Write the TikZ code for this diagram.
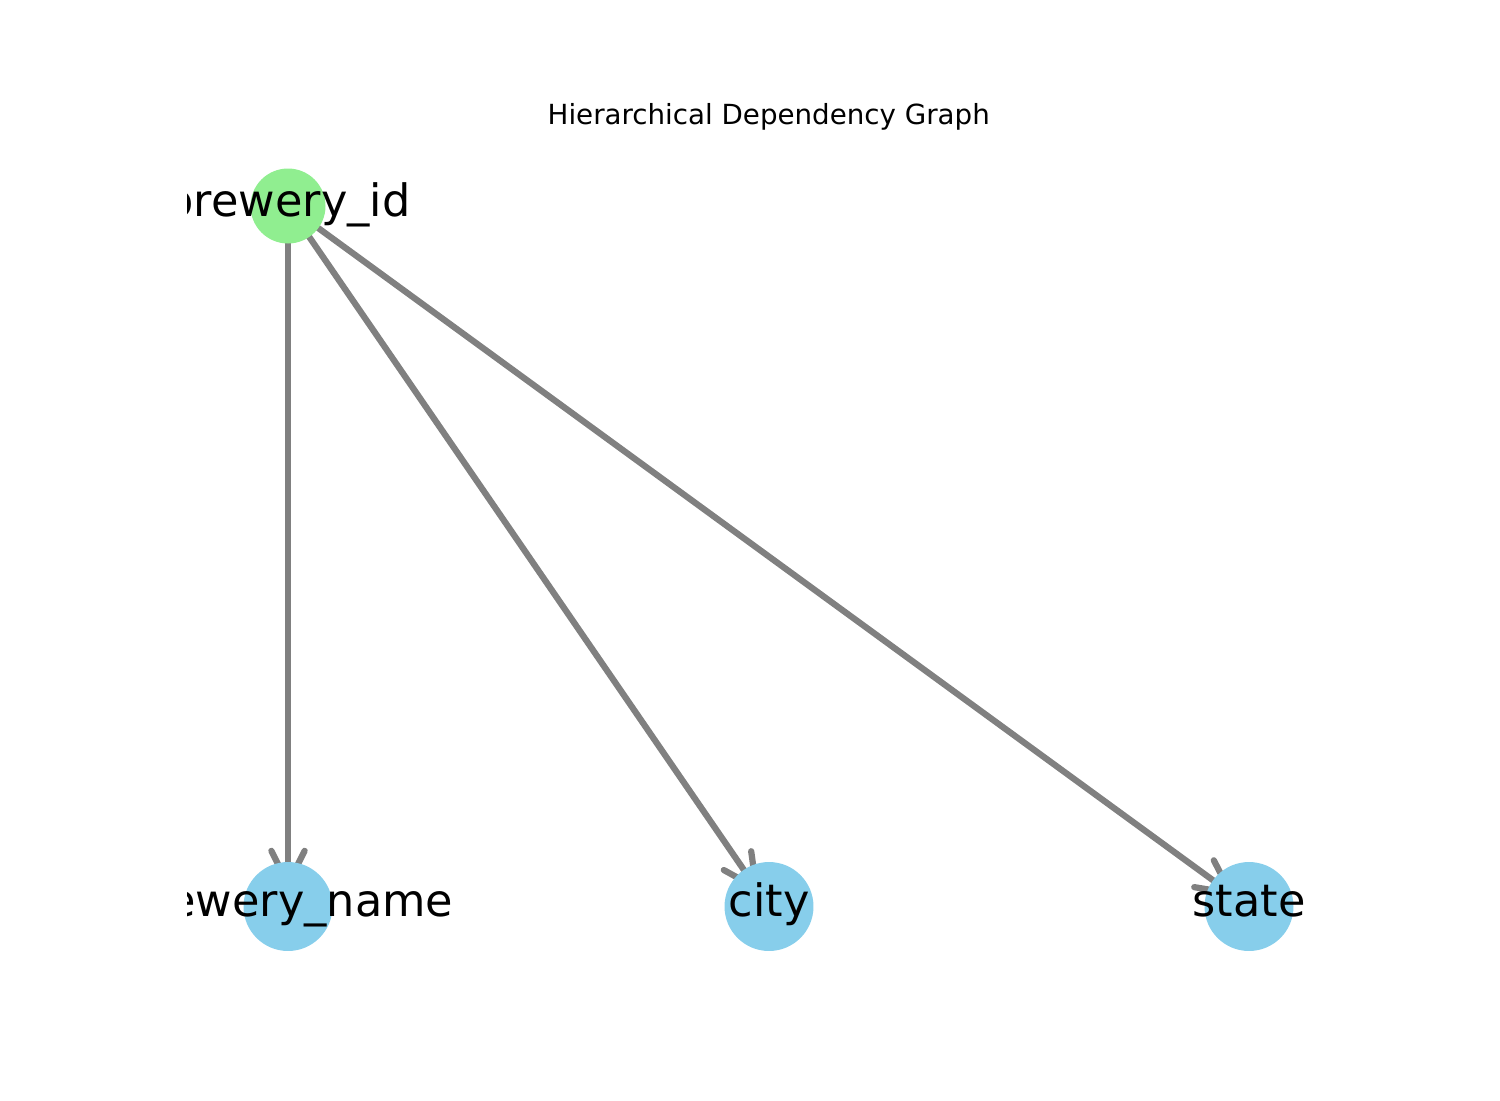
\documentclass[tikz,border=0pt]{standalone}
\usepackage{fontspec}
\setmainfont{DejaVu Sans}
\usetikzlibrary{calc}
\definecolor{nodegreen}{HTML}{90EE90}
\definecolor{nodeblue}{HTML}{87CEEB}
\definecolor{edgegray}{HTML}{808080}
\pgfdeclarelayer{bg}
\pgfsetlayers{bg,main}
\tikzset{
  rootnode/.style={circle, fill=nodegreen, inner sep=0pt, minimum size=36bp},
  leafnode/.style={circle, fill=nodeblue, inner sep=0pt, minimum size=42.7bp},
  edge/.style={draw=edgegray, line width=3bp, line cap=round, line join=round},
  lbl/.style={anchor=base, inner sep=0pt, font=\fontsize{21.4bp}{25bp}\selectfont},
  ttl/.style={anchor=base, inner sep=0pt, font=\fontsize{13.3bp}{16bp}\selectfont}
}
\begin{document}
\begin{tikzpicture}[x=0.48bp, y=-0.48bp]
\useasboundingbox (0,0) rectangle (1500,1100);
\node[ttl] (title) at (768.75,124.5) {Hierarchical Dependency Graph};
\node[rootnode] (bid) at (288,206) {};
\node[leafnode] (bn) at (288,906.5) {};
\node[leafnode] (city) at (769,906.5) {};
\node[leafnode] (state) at (1249,906.5) {};
\begin{pgfonlayer}{bg}
\foreach \t in {bn, city, state} {
  \coordinate (tip-\t) at ($(\t.center)!10.8bp!(bid.center)$);
  \draw[edge] (bid.center) -- (tip-\t);
  \draw[edge] ($(tip-\t)!17.8bp!26.6:(bid.center)$) -- (tip-\t) -- ($(tip-\t)!17.8bp!-26.6:(bid.center)$);
}
\end{pgfonlayer}
\begin{scope}
\clip (187.5,132) rectangle (1350,979);
\node[lbl] (lbid) at (288,216) {brewery\_id};
\node[lbl] (lbn) at (288,916.5) {brewery\_name};
\node[lbl] (lcity) at (769,916.5) {city};
\node[lbl] (lstate) at (1249,916.5) {state};
\end{scope}
\end{tikzpicture}
\end{document}
